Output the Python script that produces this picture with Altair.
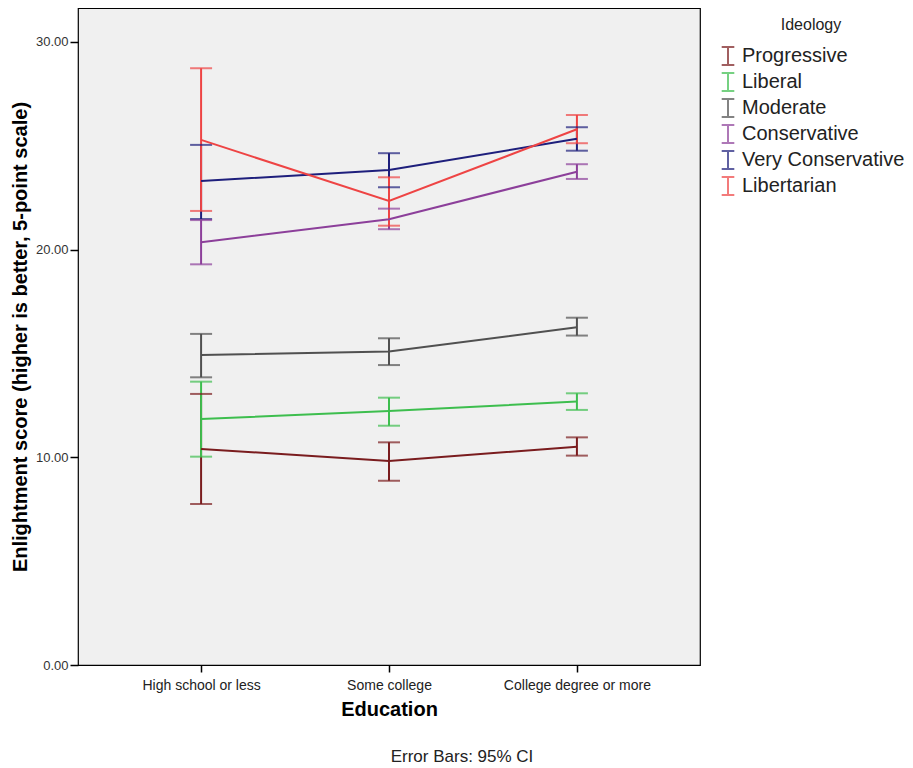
import altair as alt
import pandas as pd

categories = ["High school or less", "Some college", "College degree or more"]
ideologies = ["Progressive", "Liberal", "Moderate", "Conservative", "Very Conservative", "Libertarian"]
colors = ["#7A1C1E", "#3DBE4E", "#505050", "#8C3F9A", "#1E1F7C", "#EE4444"]

progressive_mean = [10.40, 9.82, 10.51]
progressive_low = [7.75, 8.87, 10.08]
progressive_high = [13.05, 10.72, 10.96]

liberal_mean = [11.84, 12.23, 12.68]
liberal_low = [10.03, 11.52, 12.28]
liberal_high = [13.64, 12.87, 13.08]

moderate_mean = [14.93, 15.09, 16.26]
moderate_low = [13.85, 14.44, 15.86]
moderate_high = [15.94, 15.73, 16.72]

conservative_mean = [20.35, 21.46, 23.75]
conservative_low = [19.29, 20.98, 23.40]
conservative_high = [21.42, 21.97, 24.11]

very_conservative_mean = [23.30, 23.83, 25.33]
very_conservative_low = [21.47, 23.00, 24.76]
very_conservative_high = [25.04, 24.64, 25.89]

libertarian_mean = [25.28, 22.34, 25.79]
libertarian_low = [21.86, 21.15, 25.12]
libertarian_high = [28.73, 23.48, 26.48]

series = {
    "Progressive": (progressive_mean, progressive_low, progressive_high),
    "Liberal": (liberal_mean, liberal_low, liberal_high),
    "Moderate": (moderate_mean, moderate_low, moderate_high),
    "Conservative": (conservative_mean, conservative_low, conservative_high),
    "Very Conservative": (very_conservative_mean, very_conservative_low, very_conservative_high),
    "Libertarian": (libertarian_mean, libertarian_low, libertarian_high),
}

rows = []
for ideo in ideologies:
    m, lo, hi = series[ideo]
    for i, c in enumerate(categories):
        rows.append({"Education": c, "Ideology": ideo, "mean": m[i], "low": lo[i], "high": hi[i]})
df = pd.DataFrame(rows)

FONT = "Liberation Sans"

x_enc = alt.X(
    "Education:N",
    sort=categories,
    scale=alt.Scale(type="point", padding=0.655),
    axis=alt.Axis(
        title="Education",
        titleFontSize=20,
        titleFontWeight="bold",
        titleColor="#000000",
        titlePadding=7,
        labelFontSize=14,
        labelColor="#222222",
        labelAngle=0,
        labelAlign="center",
        labelBaseline="top",
        labelPadding=6,
        tickSize=7,
        tickWidth=1.5,
        tickColor="#000000",
        domain=False,
        grid=False,
    ),
)

y_scale = alt.Scale(domain=[0, 31.63], nice=False, zero=True)
y_axis = alt.Axis(
    title="Enlightment score (higher is better, 5-point scale)",
    titleFontSize=20,
    titleFontWeight="bold",
    titleColor="#000000",
    titlePadding=5,
    values=[0, 10, 20, 30],
    format=".2f",
    labelFontSize=13,
    labelColor="#333333",
    labelPadding=2,
    tickSize=8,
    tickWidth=1.5,
    tickColor="#000000",
    domain=False,
    grid=False,
)

color_enc = alt.Color(
    "Ideology:N",
    scale=alt.Scale(domain=ideologies, range=colors),
    sort=ideologies,
    legend=alt.Legend(
        title="Ideology",
        orient="none",
        legendX=640,
        legendY=9,
        titleFontSize=16,
        titleFontWeight="normal",
        titleColor="#222222",
        titleAnchor="middle",
        titlePadding=13,
        labelFontSize=20,
        labelColor="#222222",
        labelLimit=400,
        symbolType="M-0.7,-1H0.7M0,-1V1M-0.7,1H0.7",
        symbolSize=324,
        symbolStrokeWidth=2,
        symbolFillColor="transparent",
        rowPadding=0,
        labelOffset=4,
    ),
)

base = alt.Chart(df)

lines = base.mark_line(strokeWidth=2).encode(
    x=x_enc,
    y=alt.Y("mean:Q", scale=y_scale, axis=y_axis),
    color=color_enc,
    detail="Ideology:N",
)

rules = base.mark_rule(strokeWidth=2).encode(
    x=x_enc,
    y=alt.Y("low:Q", scale=y_scale, axis=y_axis),
    y2="high:Q",
    color=color_enc,
)

caps_low = base.mark_tick(thickness=2, size=22, orient="horizontal").encode(
    x=x_enc,
    y=alt.Y("low:Q", scale=y_scale, axis=y_axis),
    color=color_enc,
)

caps_high = base.mark_tick(thickness=2, size=22, orient="horizontal").encode(
    x=x_enc,
    y=alt.Y("high:Q", scale=y_scale, axis=y_axis),
    color=color_enc,
)

chart = (
    alt.layer(rules, caps_low, caps_high, lines)
    .properties(
        width=622,
        height=657,
        autosize=alt.AutoSizeParams(type="none"),
        padding={"left": 70, "top": 0, "right": 205, "bottom": 100},
        title=alt.TitleParams(
            "Error Bars: 95% CI",
            orient="bottom",
            anchor="middle",
            fontSize=17,
            fontWeight="normal",
            color="#222222",
            offset=30,
            dx=73,
            font=FONT,
        ),
    )
    .configure(font=FONT, background="white")
    .configure_view(fill="#F0F0F0", stroke="#000000", strokeWidth=1.2)
)

chart.save("out.html", embed_options={"renderer": "svg", "actions": False})
